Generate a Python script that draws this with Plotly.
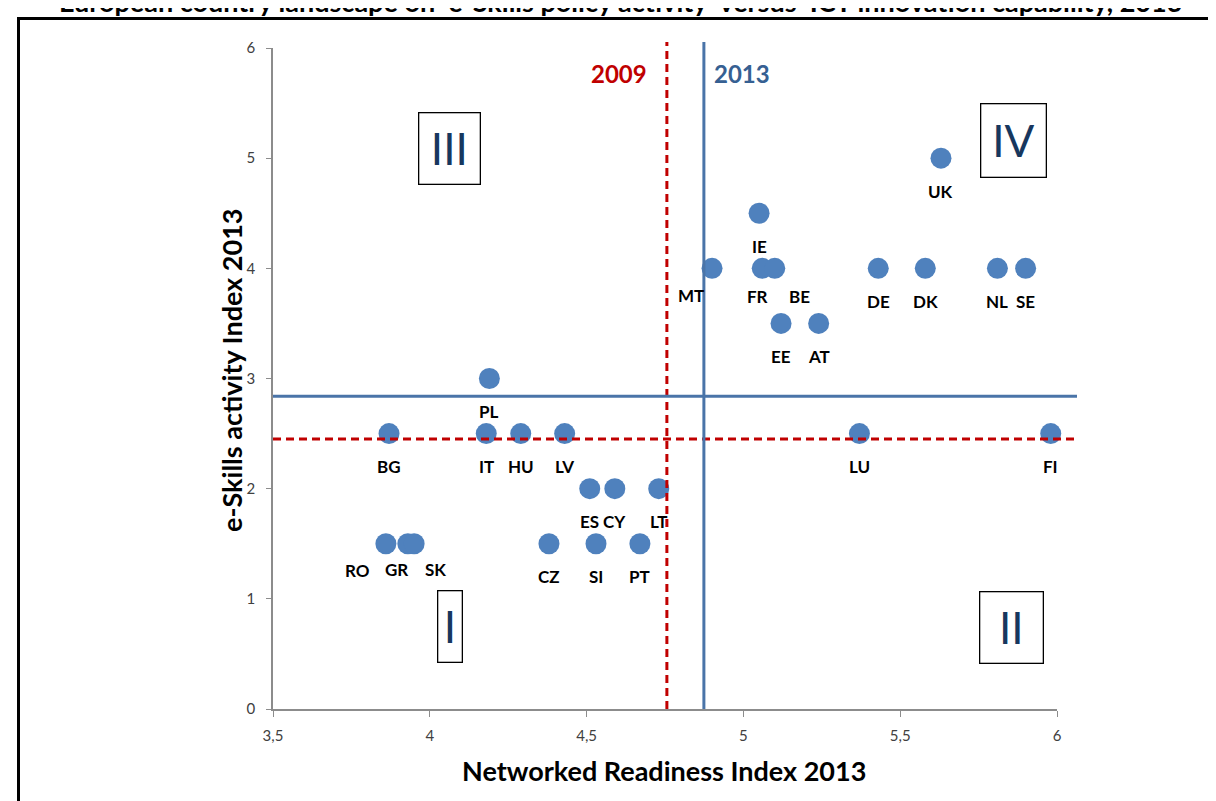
import plotly.graph_objects as go

# ---------------- data ----------------
countries = ["UK", "IE", "MT", "FR", "BE", "DE", "DK", "NL", "SE", "EE", "AT",
             "PL", "BG", "IT", "HU", "LV", "LU", "FI", "ES", "CY", "LT",
             "RO", "GR", "SK", "CZ", "SI", "PT"]
nri_2013 = [5.63, 5.05, 4.90, 5.06, 5.10, 5.43, 5.58, 5.81, 5.90, 5.12, 5.24,
            4.19, 3.87, 4.18, 4.29, 4.43, 5.37, 5.98, 4.51, 4.59, 4.73,
            3.86, 3.93, 3.95, 4.38, 4.53, 4.67]
eskills_2013 = [5.0, 4.5, 4.0, 4.0, 4.0, 4.0, 4.0, 4.0, 4.0, 3.5, 3.5,
                3.0, 2.5, 2.5, 2.5, 2.5, 2.5, 2.5, 2.0, 2.0, 2.0,
                1.5, 1.5, 1.5, 1.5, 1.5, 1.5]
avg_nri = {"2009": 4.756, "2013": 4.874}
avg_eskills = {"2009": 2.45, "2013": 2.84}
quadrants = ["I", "II", "III", "IV"]
x_ticks = [3.5, 4, 4.5, 5, 5.5, 6]
y_ticks = [0, 1, 2, 3, 4, 5, 6]

# ---------------- style ----------------
FONT = "Lato"
RED = "#C00000"
BLUE = "#4A74A8"
DOT = "#4F81BD"
NAVY = "#17375E"

# label offsets (px) relative to the marker centre
label_shift = {"MT": (-21, -27), "FR": (-5, -28), "BE": (25, -28),
               "RO": (-28, -27), "GR": (-11, -26), "SK": (21, -26)}
DEFAULT_SHIFT = (0, -33)

W, H = 1216, 801
OFF = 8  # page body margin
ML, MR, MT_, MB = 273 - OFF, W - (1057 - OFF), 48 - OFF, H - (709 - OFF)
PW, PH = W - ML - MR, H - MT_ - MB


def px_x(p):
    """page pixel x -> paper coordinate"""
    return (p - OFF - ML) / PW


def px_y(p):
    """page pixel y -> paper coordinate"""
    return (H - MB - (p - OFF)) / PH


C = dict(xanchor="center", yanchor="middle", showarrow=False)

fig = go.Figure()
fig.add_trace(go.Scatter(
    x=nri_2013, y=eskills_2013, mode="markers",
    marker=dict(size=21, color=DOT, line=dict(width=0)),
    cliponaxis=False, hoverinfo="text", text=countries, showlegend=False))

annotations = []
for c, xv, yv in zip(countries, nri_2013, eskills_2013):
    dx, dy = label_shift.get(c, DEFAULT_SHIFT)
    annotations.append(dict(x=xv, y=yv, xref="x", yref="y", text=c, **C,
                            xshift=dx, yshift=dy,
                            font=dict(family=FONT, size=17, color="black", weight="bold")))

shapes = []
# 2009 (red dashed) and 2013 (blue) averages
shapes.append(dict(type="line", xref="x", yref="paper", x0=avg_nri["2009"], x1=avg_nri["2009"],
                   y0=0, y1=px_y(42), line=dict(color=RED, width=3, dash="8px,5px")))
shapes.append(dict(type="line", xref="paper", yref="y", x0=0, x1=px_x(1077),
                   y0=avg_eskills["2009"], y1=avg_eskills["2009"],
                   line=dict(color=RED, width=3, dash="8px,5px")))
shapes.append(dict(type="line", xref="x", yref="paper", x0=avg_nri["2013"], x1=avg_nri["2013"],
                   y0=0, y1=px_y(42), line=dict(color=BLUE, width=3)))
shapes.append(dict(type="line", xref="paper", yref="y", x0=0, x1=px_x(1077),
                   y0=avg_eskills["2013"], y1=avg_eskills["2013"],
                   line=dict(color=BLUE, width=3)))
# outer frame
shapes.append(dict(type="rect", xref="paper", yref="paper", x0=px_x(18.5), x1=px_x(1300),
                   y0=px_y(900), y1=px_y(18.5), line=dict(color="black", width=3),
                   fillcolor="rgba(0,0,0,0)", layer="below"))

# year labels
annotations.append(dict(xref="paper", yref="paper", x=px_x(619), y=px_y(73), text="2009", **C,
                        font=dict(family=FONT, size=24, color=RED, weight="bold")))
annotations.append(dict(xref="paper", yref="paper", x=px_x(742), y=px_y(73), text="2013", **C,
                        font=dict(family=FONT, size=24, color="#366092", weight="bold")))

# quadrant boxes (centre px, width, height)
quad_pos = {"I": (449.5, 626, 25, 72), "II": (1011, 627, 64, 72),
            "III": (449, 148, 62, 72), "IV": (1013, 140, 66, 74)}
for q in quadrants:
    cx, cy, bw, bh = quad_pos[q]
    annotations.append(dict(xref="paper", yref="paper", x=px_x(cx), y=px_y(cy), text=q, **C,
                            width=bw - 2, height=bh - 2, borderpad=0,
                            bordercolor="black", borderwidth=1.3, bgcolor="white",
                            font=dict(family=FONT, size=44, color=NAVY)))

# axis titles
annotations.append(dict(xref="paper", yref="paper", x=px_x(664), y=px_y(770),
                        text="Networked Readiness Index 2013", **C,
                        font=dict(family=FONT, size=27, color="black", weight="bold")))
annotations.append(dict(xref="paper", yref="paper", x=px_x(231), y=px_y(370),
                        text="e-Skills activity Index 2013", textangle=-90, **C,
                        font=dict(family=FONT, size=27, color="black", weight="bold")))
# cut-off title at the very top
annotations.append(dict(xref="paper", yref="paper", x=px_x(620), y=px_y(2),
                        text="European country landscape on  e-Skills policy activity  versus  ICT innovation capability, 2013",
                        **C, font=dict(family=FONT, size=27, color="black", weight="bold")))

fig.update_layout(
    width=W, height=H, margin=dict(l=ML, r=MR, t=MT_, b=MB, autoexpand=False),
    paper_bgcolor="white", plot_bgcolor="white", separators=", ",
    shapes=shapes, annotations=annotations, showlegend=False,
    xaxis=dict(range=[3.5, 6], tickvals=x_ticks, showgrid=False, zeroline=False,
               showline=True, linecolor="#8C8C8C", linewidth=1.5, ticks="outside",
               ticklen=6, tickcolor="#8C8C8C", ticklabelstandoff=6,
               tickfont=dict(family=FONT, size=15, color="#404040"),
               tickformat=".1~f"),
    yaxis=dict(range=[0, 6], tickvals=y_ticks, showgrid=False, zeroline=False,
               showline=True, linecolor="#8C8C8C", linewidth=1.5, ticks="outside",
               ticklen=5, tickcolor="#8C8C8C", ticklabelstandoff=8,
               tickfont=dict(family=FONT, size=15, color="#404040")),
)

fig.write_html("out.html")
